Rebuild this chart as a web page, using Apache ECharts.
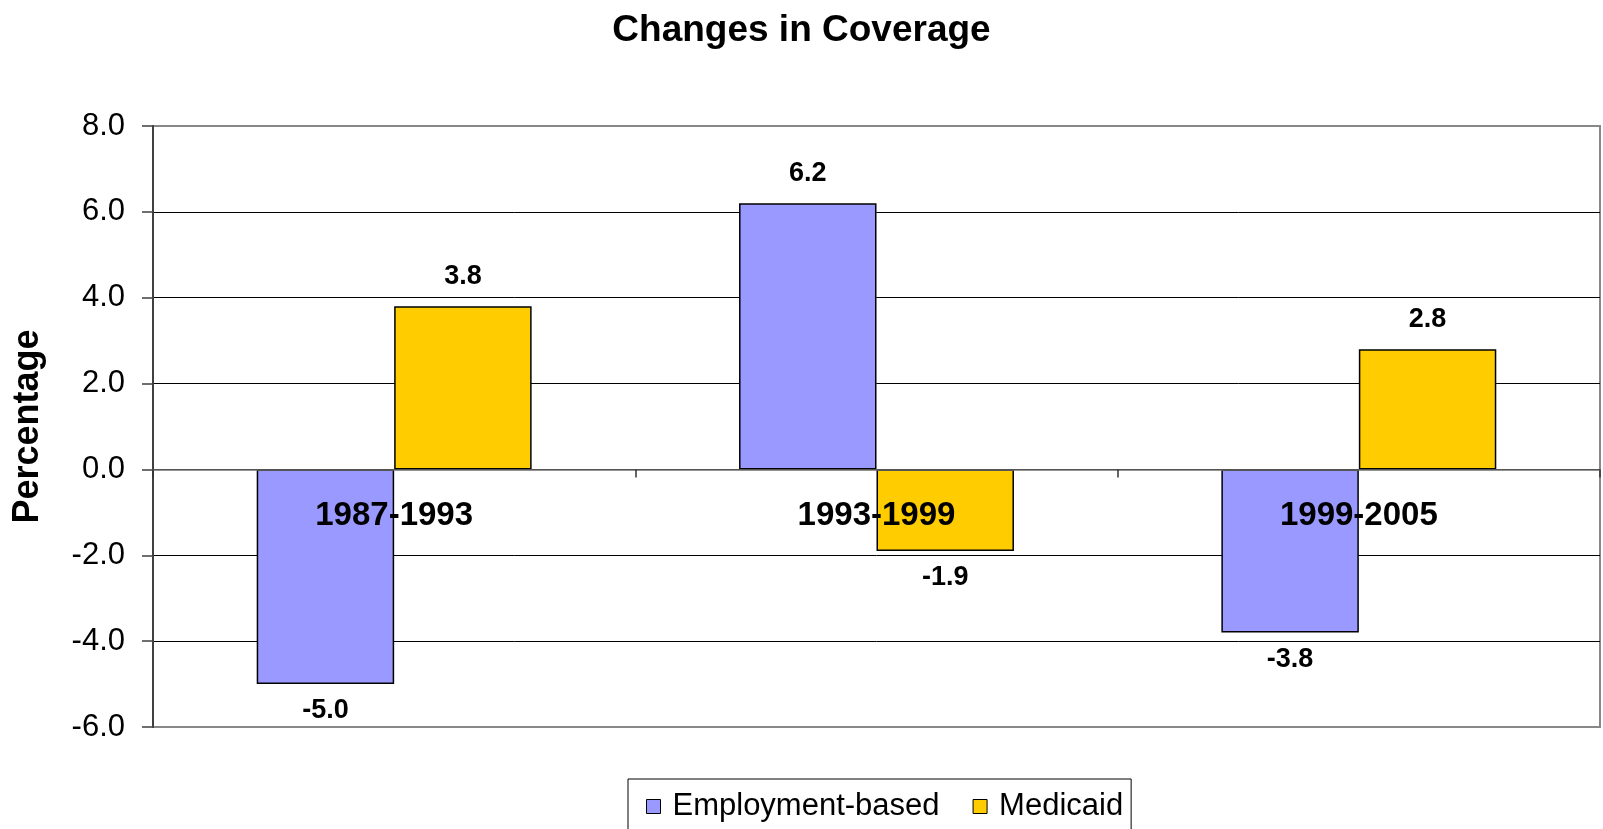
<!DOCTYPE html>
<html>
<head>
<meta charset="utf-8">
<script src="https://cdn.jsdelivr.net/npm/echarts@6/dist/echarts.min.js"></script>
<style>
html,body{margin:0;padding:0;background:#fff;}
#chart{width:1603px;height:829px;}
</style>
</head>
<body>
<div id="chart"></div>
<script>
var categories = ['1987-1993', '1993-1999', '1999-2005'];
var employmentBased = [-5.0, 6.2, -3.8];
var medicaid = [3.8, -1.9, 2.8];
var seriesNames = ['Employment-based', 'Medicaid'];
var yTicks = { min: -6, max: 8, interval: 2 };

var FONT = 'Arial, "Liberation Sans", sans-serif';

function items(vals) {
  return vals.map(function (v) {
    return {
      value: v,
      label: { position: v >= 0 ? 'top' : 'bottom', distance: v >= 0 ? 16 : 13 }
    };
  });
}

var labelCfg = {
  show: true,
  fontFamily: FONT,
  fontWeight: 'bold',
  fontSize: 27,
  color: '#000',
  formatter: function (p) { return p.value.toFixed(1); }
};

var chart = echarts.init(document.getElementById('chart'));
chart.setOption({
  backgroundColor: '#fff',
  animation: false,
  title: {
    text: 'Changes in Coverage',
    left: 'center',
    top: 7,
    textStyle: { fontFamily: FONT, fontWeight: 'bold', fontSize: 37, color: '#000' }
  },
  legend: {
    data: seriesNames,
    left: 628,
    top: 779,
    orient: 'horizontal',
    padding: [12, 8, 12, 18],
    borderColor: '#000',
    borderWidth: 1,
    itemWidth: 14,
    itemHeight: 14,
    itemGap: 33,
    icon: 'rect',
    itemStyle: { borderColor: '#000', borderWidth: 1 },
    textStyle: { fontFamily: FONT, fontSize: 31, color: '#000', padding: [0, 0, 0, 7] }
  },
  grid: {
    left: 153, right: 3, top: 126, bottom: 102,
    show: true, borderColor: '#888', borderWidth: 2, backgroundColor: 'transparent'
  },
  xAxis: {
    type: 'category',
    data: categories,
    axisLine: { onZero: true, lineStyle: { color: '#707070', width: 1.5 } },
    axisTick: { show: true, length: 8, lineStyle: { color: '#333', width: 1.5 } },
    axisLabel: { margin: -228, fontFamily: FONT, fontWeight: 'bold', fontSize: 33, color: '#000' },
    z: 5
  },
  yAxis: {
    type: 'value',
    min: yTicks.min, max: yTicks.max, interval: yTicks.interval,
    name: 'Percentage',
    nameLocation: 'middle',
    nameGap: 107,
    nameTextStyle: { fontFamily: FONT, fontWeight: 'bold', fontSize: 36, color: '#000' },
    axisLine: { show: true, lineStyle: { color: '#404040', width: 2 } },
    axisTick: { show: true, length: 11, lineStyle: { color: '#404040', width: 1.5 } },
    axisLabel: {
      margin: 28, fontFamily: FONT, fontSize: 31, color: '#000',
      formatter: function (v) { return v.toFixed(1); }
    },
    splitLine: {
      show: true,
      lineStyle: { color: ['#888', '#000', '#000', '#000', '#000', '#000', '#000', '#888'], width: 1 }
    }
  },
  series: [
    {
      name: seriesNames[0], type: 'bar',
      data: items(employmentBased),
      barGap: '0%', barCategoryGap: '43%',
      itemStyle: { color: '#9999FF', borderColor: '#000', borderWidth: 1.5 },
      label: labelCfg,
      z: 3
    },
    {
      name: seriesNames[1], type: 'bar',
      data: items(medicaid),
      barGap: '0%', barCategoryGap: '43%',
      itemStyle: { color: '#FFCC00', borderColor: '#000', borderWidth: 1.5 },
      label: labelCfg,
      z: 3
    }
  ]
});
</script>
</body>
</html>
